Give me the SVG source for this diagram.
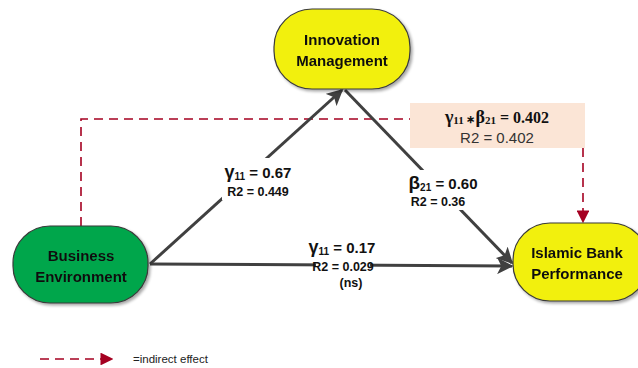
<svg xmlns="http://www.w3.org/2000/svg" width="638" height="368" viewBox="0 0 638 368">
<defs>
<style>
.node{stroke:#3a3a3a;stroke-width:1.2}
.nt{font-family:"Liberation Sans",Arial,sans-serif;font-weight:bold;font-size:15px;fill:#111;text-anchor:middle}
.lbl{font-family:"Liberation Sans",Arial,sans-serif;font-weight:bold;fill:#111;text-anchor:middle}
.conn{stroke:#404040;stroke-width:3;fill:none}
.dash{stroke:#A50021;stroke-width:1.6;fill:none;stroke-dasharray:9,6}
</style>
<marker id="ah" viewBox="0 0 10 10" refX="9" refY="5" markerWidth="5.5" markerHeight="5.5" orient="auto" markerUnits="strokeWidth">
<path d="M0,0 L10,5 L0,10 L2.5,5 Z" fill="#404040"/>
</marker>
<marker id="ahr" viewBox="0 0 10 10" refX="9" refY="5" markerWidth="8" markerHeight="8" orient="auto" markerUnits="strokeWidth">
<path d="M0,0 L10,5 L0,10 Z" fill="#A50021"/>
</marker>
<filter id="sh" x="-10%" y="-10%" width="125%" height="130%">
<feGaussianBlur in="SourceAlpha" stdDeviation="1.5"/>
<feOffset dx="2" dy="2" result="o"/>
<feComponentTransfer><feFuncA type="linear" slope="0.35"/></feComponentTransfer>
<feMerge><feMergeNode/><feMergeNode in="SourceGraphic"/></feMerge>
</filter>
</defs>
<rect width="638" height="368" fill="#fff"/>

<g id="connectors">
<path class="dash" d="M81,226 L81,119 L410,119"/>
<path class="dash" d="M583,148 L583,222" marker-end="url(#ahr)"/>
<path class="conn" d="M150,264 L342,90" marker-end="url(#ah)"/>
<path class="conn" d="M345,90 L512,263" marker-end="url(#ah)"/>
<path class="conn" d="M150,264 L512,266" marker-end="url(#ah)"/>
</g>

<g id="label-be-im">
<rect x="222" y="158" width="74" height="42" fill="#fff"/>
<text class="lbl" x="258" y="178" font-size="15"><tspan font-size="18">γ</tspan><tspan font-size="10" dy="2">11</tspan><tspan dy="-2"> = 0.67</tspan></text>
<text class="lbl" x="258" y="196" font-size="12.5">R2 = 0.449</text>
</g>
<g id="label-im-ibp">
<rect x="402" y="170" width="80" height="40" fill="#fff"/>
<text class="lbl" x="443" y="189" font-size="15"><tspan font-size="19">β</tspan><tspan font-size="10" dy="2">21</tspan><tspan dy="-2"> = 0.60</tspan></text>
<text class="lbl" x="438" y="206" font-size="12.5">R2 = 0.36</text>
</g>
<g id="label-be-ibp">
<rect x="306" y="237" width="72" height="22" fill="#fff"/>
<rect x="316" y="259" width="54" height="13" fill="#fff"/>
<text class="lbl" x="342" y="253" font-size="15"><tspan font-size="18">γ</tspan><tspan font-size="10" dy="2">11</tspan><tspan dy="-2"> = 0.17</tspan></text>
<text class="lbl" x="343" y="271" font-size="12.5">R2 = 0.029</text>
<text class="lbl" x="351" y="287" font-size="12.5">(ns)</text>
</g>

<g id="indirect-box">
<rect x="410" y="103" width="175" height="45" fill="#FBE5D6"/>
<text x="497" y="123" text-anchor="middle" font-family="'Liberation Serif','Times New Roman',serif" font-weight="bold" font-size="16" fill="#111"><tspan font-size="18">γ</tspan><tspan font-size="11" dy="1">11</tspan><tspan dy="-1" font-size="11"> ∗</tspan><tspan font-size="18">β</tspan><tspan font-size="11" dy="1">21</tspan><tspan dy="-1"> = 0.402</tspan></text>
<text x="497" y="143" text-anchor="middle" font-family="'Liberation Sans',Arial,sans-serif" font-size="15" fill="#333">R2 = 0.402</text>
</g>

<g id="innovation-management" filter="url(#sh)">
<rect class="node" x="274" y="9" width="136" height="80" rx="38" ry="38" fill="#F2F00C"/>
<text class="nt" x="342" y="45">Innovation</text>
<text class="nt" x="342" y="66">Management</text>
</g>
<g id="business-environment" filter="url(#sh)">
<rect class="node" x="13" y="226" width="135" height="77" rx="37" ry="37" fill="#03A64C"/>
<text class="nt" x="81" y="261">Business</text>
<text class="nt" x="81" y="282">Environment</text>
</g>
<g id="islamic-bank-performance" filter="url(#sh)">
<rect class="node" x="513" y="223" width="135" height="78" rx="37" ry="37" fill="#F2F00C"/>
<text class="nt" x="577" y="258">Islamic Bank</text>
<text class="nt" x="577" y="279">Performance</text>
</g>

<g id="legend">
<path class="dash" d="M40,359 L112,359" marker-end="url(#ahr)"/>
<text x="133" y="363" font-family="'Liberation Sans',Arial,sans-serif" font-size="11.5" fill="#222">=indirect effect</text>
</g>
</svg>
